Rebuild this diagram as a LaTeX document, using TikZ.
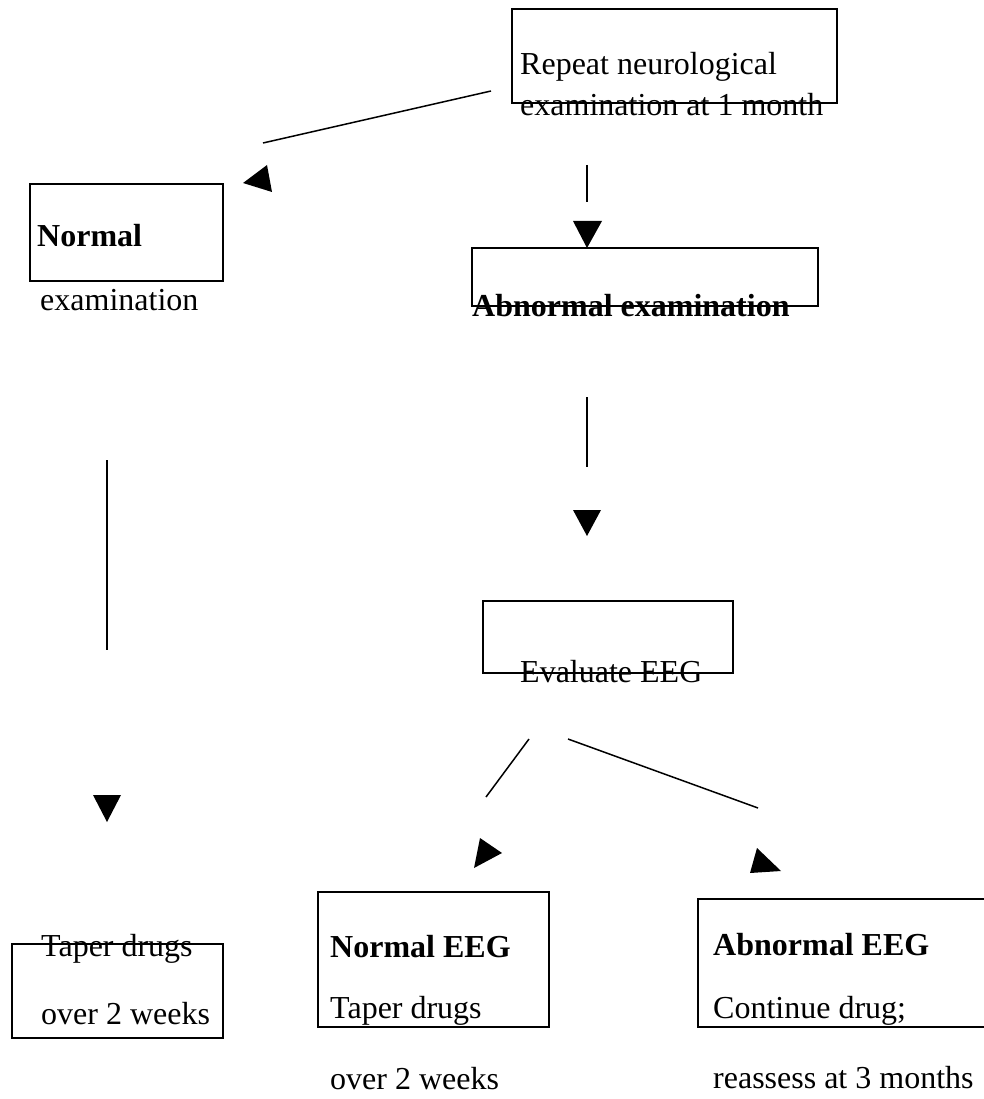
\documentclass[tikz,border=0pt]{standalone}
\usepackage{fontspec}
\setmainfont{Liberation Serif}
\begin{document}
\begin{tikzpicture}[x=1pt,y=-1pt,
  box/.style={draw,line width=1.5pt,inner sep=0pt,outer sep=0pt,anchor=north west},
  txt/.style={inner sep=0pt,anchor=base west,font=\fontsize{32}{38}\selectfont},
  btxt/.style={txt,font=\fontsize{32}{38}\selectfont\bfseries},
  conn/.style={line width=1.5pt},
  head/.style={fill=black,draw=none}]
\clip (0,0) rectangle (984,1099);
\fill[white] (0,0) rectangle (984,1099);
% boxes
\node[box,minimum width=325pt,minimum height=94pt] (top) at (512,9) {};
\node[box,minimum width=193pt,minimum height=97pt] (norm) at (30,184) {};
\node[box,minimum width=346pt,minimum height=58pt] (abn) at (472,248) {};
\node[box,minimum width=250pt,minimum height=72pt] (eval) at (483,601) {};
\node[box,minimum width=211pt,minimum height=94pt] (taper) at (12,944) {};
\node[box,minimum width=231pt,minimum height=135pt] (neeg) at (318,892) {};
\node[box,minimum width=310pt,minimum height=128pt] (aeeg) at (698,899) {};
% texts
\node[txt] (t1) at (520,75) {Repeat neurological};
\node[txt] (t2) at (520,116) {examination at 1 month};
\node[btxt] (t3) at (37,247) {Normal};
\node[txt] (t4) at (40,310) {examination};
\node[btxt] (t5) at (472,316) {Abnormal examination};
\node[txt] (t6) at (520,682) {Evaluate EEG};
\node[txt] (t7) at (41,956) {Taper drugs};
\node[txt] (t8) at (41,1024) {over 2 weeks};
\node[btxt] (t9) at (330,957) {Normal EEG};
\node[txt] (t10) at (330,1018) {Taper drugs};
\node[txt] (t11) at (330,1089) {over 2 weeks};
\node[btxt] (t12) at (713,955) {Abnormal EEG};
\node[txt] (t13) at (713,1018) {Continue drug;};
\node[txt] (t14) at (713,1088) {reassess at 3 months};
% connector end points
\coordinate (l1a) at (491,91);  \coordinate (l1b) at (263,143);
\coordinate (l2a) at (587,165); \coordinate (l2b) at (587,202);
\coordinate (l3a) at (587,397); \coordinate (l3b) at (587,467);
\coordinate (l4a) at (107,460); \coordinate (l4b) at (107,650);
\coordinate (l5a) at (529,739); \coordinate (l5b) at (486,797);
\coordinate (l6a) at (568,739); \coordinate (l6b) at (758,808);
\draw[conn] (l1a) -- (l1b);
\draw[conn] (l2a) -- (l2b);
\draw[conn] (l3a) -- (l3b);
\draw[conn] (l4a) -- (l4b);
\draw[conn] (l5a) -- (l5b);
\draw[conn] (l6a) -- (l6b);
% detached arrowheads
\fill[head] (243,183) -- (267,165) -- (272,192) -- cycle;
\fill[head] (587,248) -- (573,221) -- (602,221) -- cycle;
\fill[head] (587,536) -- (573,510) -- (601,510) -- cycle;
\fill[head] (107,822) -- (93,795) -- (121,795) -- cycle;
\fill[head] (502,853) -- (480,838) -- (474,868) -- cycle;
\fill[head] (781,871) -- (757,848) -- (750,873) -- cycle;
\end{tikzpicture}
\end{document}
